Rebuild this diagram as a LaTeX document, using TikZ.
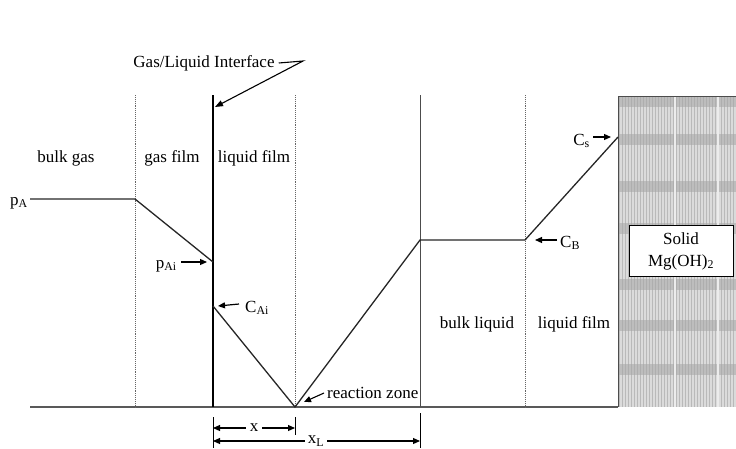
\documentclass[tikz,border=0pt]{standalone}
\usepackage{fontspec}
\setmainfont{Liberation Serif}
\usetikzlibrary{arrows.meta}
\begin{document}
\begin{tikzpicture}[x=1pt,y=-1pt,
  lbl/.style={inner sep=1pt,font=\fontsize{17}{19}\selectfont},
  filmline/.style={gray!80!black,line width=0.9pt,densely dotted},
  profile/.style={line width=1.3pt,black!85},
  ptr/.style={line width=1.2pt,-{Triangle[length=7pt,width=6pt]}},
  dim/.style={line width=1.1pt,{Triangle[length=7pt,width=6pt]}-{Triangle[length=7pt,width=6pt]}},
  tick/.style={line width=1pt}]
\useasboundingbox (0,0) rectangle (736,448);

% solid Mg(OH)2 region
\begin{scope}
\clip (618,96) rectangle (736,407);
\fill[gray!28] (618,96) rectangle (736,407);
\foreach \i in {619,622,...,736} \draw[gray!55,line width=0.7pt] (\i,96) -- (\i,407);
\foreach \yy in {96,134,181,223,279,320,364}
  \fill[gray!70,opacity=0.55] (618,\yy) rectangle (736,\yy+11);
\foreach \xx in {675,718} \draw[gray!15,line width=1.5pt] (\xx,96) -- (\xx,407);
\end{scope}
\draw[gray!60!black,line width=0.8pt] (736,96) -- (618,96) -- (618,407);
\node[draw,fill=white,line width=0.9pt,minimum width=104pt,minimum height=51pt,align=center,inner sep=1pt,font=\fontsize{17}{22}\selectfont] (solid) at (681,251) {Solid\\Mg(OH)\textsubscript{2}};

% coordinates
\coordinate (base0) at (30,407);
\coordinate (base1) at (618,407);
\coordinate (g1t) at (135,95);   \coordinate (g1b) at (135,407);
\coordinate (ift) at (213,95);   \coordinate (ifb) at (213,407);
\coordinate (g2t) at (295,95);   \coordinate (g2b) at (295,407);
\coordinate (l1t) at (420,95);   \coordinate (l1b) at (420,407);
\coordinate (l2t) at (525,95);   \coordinate (l2b) at (525,407);

% baseline and film boundaries
\draw[line width=1.3pt,gray!70!black] (base0) -- (base1);
\draw[filmline] (g1t) -- (g1b);
\draw[filmline] (g2t) -- (g2b);
\draw[filmline] (l2t) -- (l2b);
\draw[line width=1pt,gray!60!black] (l1t) -- (l1b);
\draw[line width=2.4pt] (ift) -- (ifb);

% concentration profile
\coordinate (pA0) at (30,199);
\coordinate (pA1) at (135,199);
\coordinate (pAi) at (213,262);
\coordinate (cAi) at (213,306);
\coordinate (rz) at (295,407);
\coordinate (cb0) at (420,240);
\coordinate (cb1) at (525,240);
\coordinate (cs) at (618,137);
\draw[profile] (pA0) -- (pA1) -- (pAi);
\draw[profile] (cAi) -- (rz) -- (cb0) -- (cb1) -- (cs);

% region labels
\node[lbl] (bg) at (66,158) {bulk gas};
\node[lbl] (gf) at (172,158) {gas film};
\node[lbl] (lf1) at (254,158) {liquid film};
\node[lbl] (bl) at (477,324) {bulk liquid};
\node[lbl] (lf2) at (574,324) {liquid film};

% point labels
\node[lbl,anchor=east] (pA) at (29,203) {p\textsubscript{A}};
\node[lbl,anchor=east] (pAiL) at (178,266) {p\textsubscript{Ai}};
\coordinate (pAiS) at (181,262);
\draw[ptr] (pAiS) -- ([xshift=-6pt]pAi);
\node[lbl,anchor=west] (cAiL) at (244,308) {C\textsubscript{Ai}};
\coordinate (cAiS) at (239,304);
\draw[ptr] (cAiS) -- ([xshift=5pt]cAi);
\node[lbl,anchor=west] (cbL) at (559,243) {C\textsubscript{B}};
\coordinate (cbS) at (557,240);
\draw[ptr] (cbS) -- ([xshift=10pt]cb1);
\node[lbl,anchor=east] (csL) at (591,141) {C\textsubscript{s}};
\coordinate (csS) at (593,137);
\draw[ptr] (csS) -- ([xshift=-7pt]cs);

% interface label
\node[lbl] (gli) at (204,63) {Gas/Liquid Interface};
\coordinate (gk) at (303,61);
\draw[line width=1.1pt,-{Triangle[length=8pt,width=6pt]}] ([xshift=3pt]gli.east) -- (gk) -- (215,107);

% reaction zone
\node[lbl,anchor=west] (rzL) at (326,393) {reaction zone};
\draw[line width=1.1pt,-{Triangle[length=7pt,width=6pt]}] ([xshift=-2pt]rzL.west) -- (304,402);

% dimensions
\coordinate (t1a) at (213,417); \coordinate (t1b) at (213,448);
\coordinate (t2a) at (295,417); \coordinate (t2b) at (295,435);
\coordinate (t3a) at (420,413); \coordinate (t3b) at (420,448);
\draw[tick] (t1a) -- (t1b);
\draw[tick] (t2a) -- (t2b);
\draw[tick] (t3a) -- (t3b);
\draw[dim] (213,428) -- (295,428);
\node[lbl,fill=white,inner xsep=4pt,inner ysep=0pt] (xlab) at (254,428) {x};
\draw[dim] (213,441) -- (420,441);
\node[lbl,fill=white,inner xsep=3pt,inner ysep=0pt] (xL) at (316,441) {x\textsubscript{L}};
\end{tikzpicture}
\end{document}
